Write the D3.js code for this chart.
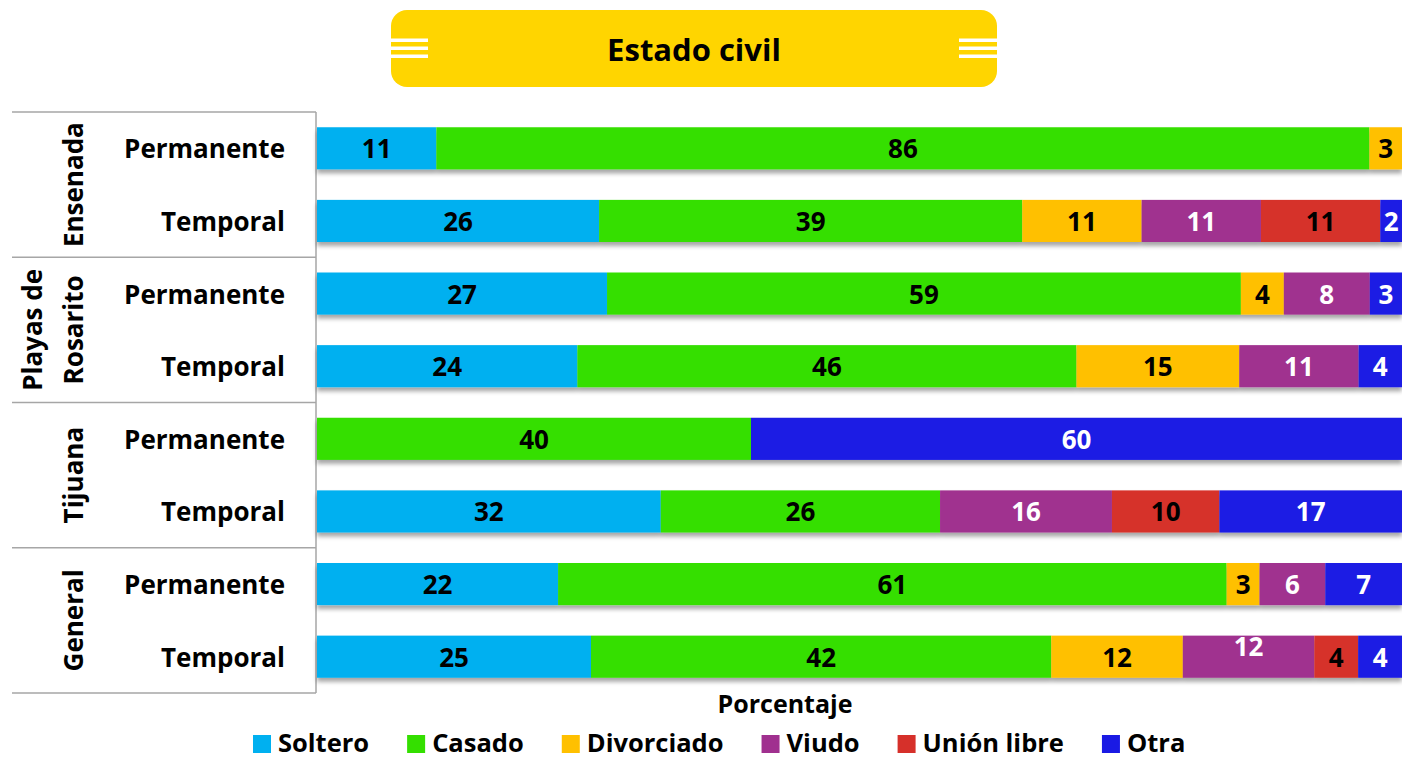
<!DOCTYPE html>
<html>
<head>
<meta charset="utf-8">
<script src="https://cdn.jsdelivr.net/npm/d3@7"></script>
<style>
  html, body { margin: 0; padding: 0; background: #ffffff; }
  svg { display: block; }
  text { font-family: "Open Sans", "Noto Sans", sans-serif; font-weight: 700; }
</style>
</head>
<body>
<svg id="chart" width="1402" height="761"></svg>
<script>
// ---------- data ----------
const title = "Estado civil";
const axisTitle = "Porcentaje";
const groups = ["Ensenada", "Playas de Rosarito", "Tijuana", "General"];
const groupLines = [["Ensenada"], ["Playas de", "Rosarito"], ["Tijuana"], ["General"]];
const types = ["Permanente", "Temporal"];
const categories = ["Soltero", "Casado", "Divorciado", "Viudo", "Unión libre", "Otra"];
const colors = ["#00B0F0", "#34DF00", "#FFC000", "#A0308F", "#D6302A", "#1A1AE4"];
const labelColors = ["#000000", "#000000", "#000000", "#ffffff", "#000000", "#ffffff"];

// one value per row: Ensenada P, Ensenada T, Rosarito P, Rosarito T, Tijuana P, Tijuana T, General P, General T
const soltero    = [11, 26, 27, 24,  0, 32, 22, 25];
const casado     = [86, 39, 59, 46, 40, 26, 61, 42];
const divorciado = [ 3, 11,  4, 15,  0,  0,  3, 12];
const viudo      = [ 0, 11,  8, 11,  0, 16,  6, 12];
const unionLibre = [ 0, 11,  0,  0,  0, 10,  0,  4];
const otra       = [ 0,  2,  3,  4, 60, 17,  7,  4];
const seriesValues = [soltero, casado, divorciado, viudo, unionLibre, otra];

// ---------- build table ----------
const rows = [];
groups.forEach((g, gi) => types.forEach((t, ti) => {
  const i = gi * types.length + ti;
  const r = { key: g + "|" + t, group: g, type: t };
  categories.forEach((c, ci) => r[c] = seriesValues[ci][i]);
  rows.push(r);
}));

const svg = d3.select("#chart");
const W = 1402;

// defs: drop shadow
const defs = svg.append("defs");
const f = defs.append("filter").attr("id", "shadow")
  .attr("x", "-5%").attr("y", "-20%").attr("width", "110%").attr("height", "160%");
f.append("feDropShadow").attr("dx", 0).attr("dy", 4).attr("stdDeviation", 2.2)
  .attr("flood-color", "#000").attr("flood-opacity", 0.35);

// ---------- title box ----------
const tb = { x: 391, y: 10, w: 606, h: 77 };
svg.append("rect").attr("x", tb.x).attr("y", tb.y).attr("width", tb.w).attr("height", tb.h)
  .attr("rx", 16).attr("fill", "#FFD500");
[-8, 0, 8].forEach(d => {
  svg.append("rect").attr("x", tb.x).attr("y", tb.y + tb.h / 2 + d - 2)
    .attr("width", 37).attr("height", 3.5).attr("fill", "#ffffff");
  svg.append("rect").attr("x", tb.x + tb.w - 38).attr("y", tb.y + tb.h / 2 + d - 2)
    .attr("width", 38).attr("height", 3.5).attr("fill", "#ffffff");
});
svg.append("text").attr("x", tb.x + tb.w / 2).attr("y", tb.y + tb.h / 2)
  .attr("text-anchor", "middle").attr("dominant-baseline", "central")
  .attr("font-size", 31).attr("fill", "#000").text(title);

// ---------- scales ----------
const x = d3.scaleLinear().domain([0, 1]).range([317, W]);
const y = d3.scaleBand().domain(rows.map(r => r.key)).range([112, 693])
  .paddingInner(0.42).paddingOuter(0.21);

const stack = d3.stack().keys(categories).offset(d3.stackOffsetExpand);
const stacked = stack(rows);

// ---------- left table ----------
const tableLeft = 12, tableRight = 316;
const gridColor = "#a6a6a6";
const groupTop = gi => y(rows[gi * 2].key) - y.step() * y.paddingOuter();
for (let gi = 0; gi <= groups.length; gi++) {
  const yy = gi < groups.length ? groupTop(gi) : y.range()[1];
  svg.append("line").attr("x1", tableLeft).attr("x2", tableRight)
    .attr("y1", yy).attr("y2", yy).attr("stroke", gridColor).attr("stroke-width", 1.5);
}
svg.append("line").attr("x1", tableRight).attr("x2", tableRight)
  .attr("y1", y.range()[0]).attr("y2", y.range()[1]).attr("stroke", gridColor).attr("stroke-width", 1.5);

// group labels (rotated)
groups.forEach((g, gi) => {
  const cy = (groupTop(gi) + (gi + 1 < groups.length ? groupTop(gi + 1) : y.range()[1])) / 2;
  const lines = groupLines[gi];
  lines.forEach((ln, li) => {
    const bx = 83 - (lines.length - 1 - li) * 41;
    svg.append("text")
      .attr("transform", `translate(${bx},${cy}) rotate(-90)`)
      .attr("text-anchor", "middle").attr("font-size", 26).attr("fill", "#000")
      .text(ln);
  });
});

// row labels
rows.forEach(r => {
  svg.append("text").attr("x", 285).attr("y", y(r.key) + y.bandwidth() / 2)
    .attr("text-anchor", "end").attr("dominant-baseline", "central")
    .attr("font-size", 26).attr("fill", "#000").text(r.type);
});

// ---------- bars ----------
const barG = svg.append("g");
const rowG = barG.selectAll("g.row").data(rows).join("g").attr("class", "row")
  .attr("filter", "url(#shadow)");
stacked.forEach((s, si) => {
  rowG.append("rect")
    .datum((r, i) => s[i])
    .attr("x", d => x(d[0]))
    .attr("y", d => y(d.data.key))
    .attr("width", d => Math.max(0, x(d[1]) - x(d[0])))
    .attr("height", y.bandwidth())
    .attr("fill", colors[si]);
});

// value labels
const labG = svg.append("g");
stacked.forEach((s, si) => {
  s.forEach(d => {
    const v = d.data[categories[si]];
    if (!v) return;
    const shiftUp = (d.data.group === "General" && d.data.type === "Temporal" && categories[si] === "Viudo") ? -11 : 0;
    labG.append("text")
      .attr("x", (x(d[0]) + x(d[1])) / 2)
      .attr("y", y(d.data.key) + y.bandwidth() / 2 + shiftUp)
      .attr("text-anchor", "middle").attr("dominant-baseline", "central")
      .attr("font-size", 26).attr("fill", labelColors[si]).text(v);
  });
});

// axis title
svg.append("text").attr("x", 785).attr("y", 703)
  .attr("text-anchor", "middle").attr("dominant-baseline", "central")
  .attr("font-size", 25).attr("fill", "#000").text(axisTitle);

// ---------- legend ----------
const leg = svg.append("g");
let lx = 253;
const ly = 742;
categories.forEach((c, ci) => {
  leg.append("rect").attr("x", lx).attr("y", ly - 7).attr("width", 18).attr("height", 18).attr("fill", colors[ci]);
  const t = leg.append("text").attr("x", lx + 25).attr("y", ly)
    .attr("dominant-baseline", "central").attr("font-size", 25.5).attr("fill", "#000").text(c);
  lx += 25 + t.node().getComputedTextLength() + 38;
});
</script>
</body>
</html>
